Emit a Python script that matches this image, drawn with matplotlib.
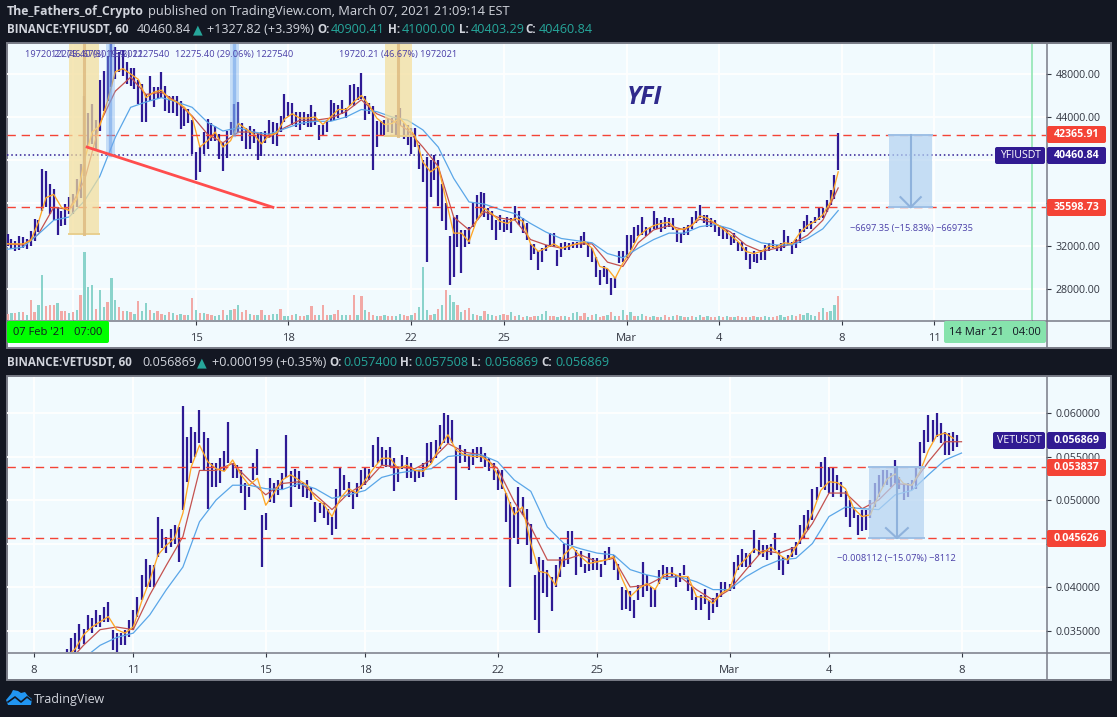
"""Two stacked TradingView style panels: YFIUSDT and VETUSDT hourly, sampled every 3 hours."""
import matplotlib

matplotlib.use("Agg")

import matplotlib.pyplot as plt
import numpy as np
from matplotlib.patches import FancyBboxPatch, Polygon, Rectangle

# YFI prices in thousands of USDT, one sample per 3 hours
yfi_high = [33.1, 32.7, 32.5, 32.9, 32.8, 32.7, 33.4, 34.5, 34.4, 39.2, 39.0, 37.8, 37.3, 35.6, 35.3, 35.9, 36.6, 36.8, 38.2, 39.6,
            46.0, 44.4, 45.2, 43.7, 47.4, 48.3, 49.7, 50.8, 50.5, 50.0, 50.2, 49.1, 48.6, 48.6, 47.4, 47.1, 46.1, 47.8, 46.8, 46.8,
            48.2, 46.9, 46.0, 46.0, 46.0, 45.5, 44.7, 44.7, 43.7, 40.7, 41.2, 42.6, 43.8, 43.4, 43.2, 42.4, 41.6, 42.7, 43.5, 45.2,
            45.4, 43.4, 43.0, 43.2, 42.9, 42.4, 42.6, 42.7, 43.7, 43.5, 43.4, 44.1, 46.1, 45.4,
            45.3, 44.5, 44.5, 44.5, 44.3, 45.1, 44.5, 43.3, 43.3, 43.7, 45.6, 45.3, 45.1, 45.6, 44.8, 47.0, 47.1, 46.8, 48.1, 46.0,
            45.3, 45.0, 43.6, 43.6, 43.7, 43.9, 43.9, 44.2, 44.8, 43.4, 43.3, 43.0, 43.0, 41.4, 40.0, 40.3, 40.0, 40.5, 40.0, 37.8,
            36.0, 32.9, 34.7, 34.9, 33.5, 33.5, 33.8, 36.0, 36.7, 37.0, 36.9, 35.5, 35.3, 34.4, 34.9, 34.4, 34.7, 34.6, 35.7, 35.3,
            34.6, 34.1, 32.2, 32.2, 31.5, 31.8, 32.1, 33.2, 33.2, 31.6,
            32.3, 32.4, 32.3, 32.4, 32.4, 32.9, 33.3, 32.4, 31.8, 31.0, 29.8, 30.1, 29.9, 29.0, 29.1, 31.5, 31.5, 33.0, 33.0, 33.8,
            34.0, 34.7, 33.8, 33.8, 35.3, 34.6, 34.4, 34.7, 34.6, 34.6, 33.5, 33.2, 33.8, 34.0, 34.7, 35.3, 35.8, 34.9, 34.9, 34.6,
            34.4, 33.8, 33.8, 33.5, 33.0, 33.2, 32.4, 32.4, 31.9, 31.3, 31.5, 31.3, 31.6, 32.1, 32.3, 32.6, 32.1, 32.3, 33.5, 32.9,
            32.4, 32.7, 33.6, 34.3, 34.9, 34.3, 34.7, 35.5, 35.5, 36.3, 37.2, 38.6, 42.5]
yfi_low = [32.0, 31.7, 31.5, 31.6, 31.8, 31.7, 32.0, 32.5, 33.3, 35.3, 35.6, 35.0, 34.4, 33.0, 33.9, 34.0, 35.0, 35.0, 35.6, 36.5,
           38.5, 41.0, 41.5, 40.9, 42.7, 44.6, 45.5, 46.8, 47.5, 48.2, 47.8, 47.1, 46.9, 46.6, 45.2, 43.5, 43.5, 45.5, 44.9, 45.7,
           45.8, 44.6, 44.4, 44.4, 44.1, 42.9, 43.2, 43.4, 40.6, 38.1, 38.9, 40.6, 41.0, 41.8, 41.8, 40.1, 39.0, 40.2, 42.3, 42.4,
           42.6, 41.8, 41.0, 41.0, 41.6, 40.0, 40.4, 41.6, 42.1, 41.5, 41.3, 42.6, 43.5, 44.1,
           43.3, 43.1, 42.8, 43.3, 43.1, 43.1, 43.3, 41.9, 42.3, 42.6, 43.6, 43.7, 43.9, 44.3, 43.9, 45.0, 45.0, 45.6, 45.7, 43.7,
           44.3, 39.1, 41.2, 42.3, 42.2, 42.6, 42.5, 42.3, 43.3, 42.0, 41.4, 40.6, 41.2, 39.2, 38.0, 30.5, 36.6, 38.1, 35.7, 34.3,
           33.5, 28.4, 29.1, 31.9, 29.5, 31.9, 32.2, 33.8, 34.4, 35.0, 34.7, 34.4, 33.5, 32.6, 33.5, 33.3, 33.5, 33.2, 34.4, 34.0,
           33.2, 32.6, 30.7, 31.3, 29.8, 30.5, 31.5, 31.9, 31.9, 30.1,
           31.0, 31.6, 31.6, 31.8, 31.8, 31.8, 32.1, 31.0, 30.5, 29.1, 28.4, 29.1, 28.5, 27.4, 28.1, 30.4, 30.5, 30.9, 31.6, 32.3,
           32.9, 33.0, 32.9, 33.2, 33.6, 33.6, 33.3, 33.6, 33.8, 33.5, 32.4, 32.3, 33.0, 33.0, 33.6, 34.1, 34.6, 34.1, 33.8, 33.8,
           33.3, 32.9, 32.7, 32.7, 32.1, 32.3, 31.5, 31.5, 30.7, 29.9, 30.5, 30.4, 30.7, 30.7, 31.5, 31.8, 31.5, 31.5, 31.8, 32.1,
           31.3, 31.8, 32.3, 33.3, 33.6, 33.6, 34.1, 34.4, 34.6, 35.2, 35.8, 36.4, 39.1]
# moving averages: fast every 6 h, mid and slow every 12 h
yfi_fast = [32.2, 32.2, 32.2, 32.5, 34.2, 36.5, 36.8, 35.6, 35.3, 36.4, 40.0, 42.6, 43.2, 45.5, 48.2, 48.5, 48.0, 47.5, 45.8, 46.3,
            46.5, 45.7, 45.4, 44.9, 44.0, 41.2, 41.8, 42.6, 41.2, 41.8, 43.4, 42.9, 42.4, 41.5, 42.3, 42.5, 43.8,
            44.3, 43.9, 43.9, 44.0, 43.3, 44.0, 44.7, 44.7, 45.4, 46.0, 45.1, 43.9, 43.3, 43.4, 43.9, 43.1, 42.2, 39.8, 38.9, 39.4,
            36.3, 33.2, 33.2, 32.4, 34.4, 35.5, 35.0, 34.3, 34.1, 34.6, 34.3, 32.2, 31.5, 31.8, 32.2,
            31.8, 32.0, 32.2, 32.4, 31.8, 30.1, 29.9, 29.0, 30.4, 31.5, 32.9, 33.5, 33.9, 34.1, 34.2, 33.5, 33.6, 33.9, 34.8, 34.6,
            34.1, 33.6, 33.0, 32.4, 31.5, 31.3, 31.5, 32.0, 31.9, 32.3, 32.2, 33.2, 33.9, 34.3, 34.9, 36.1, 38.9]
yfi_mid = [32.2, 32.1, 33.1, 35.6, 35.4, 38.1, 43.4, 46.4, 47.7, 46.1, 46.3, 45.4, 44.1, 42.4, 41.6, 42.6, 42.6, 42.1, 43.0,
           43.7, 43.7, 43.9, 44.5, 45.6, 44.3, 43.7, 42.8, 41.2, 39.4, 34.7, 33.5, 35.2, 34.6, 34.4, 32.6, 32.1,
           31.8, 32.2, 32.2, 30.5, 30.1, 32.3, 33.5, 33.9, 33.5, 34.5, 34.1, 33.3, 32.1, 31.5, 31.8, 32.2, 33.0, 34.4, 37.4]
yfi_slow = [31.7, 31.9, 33.1, 34.4, 34.7, 36.2, 38.5, 42.1, 44.9, 45.4, 45.8, 45.4, 44.9, 43.5, 42.7, 43.0, 42.6, 42.4, 42.9,
            43.4, 43.6, 43.6, 44.0, 44.7, 44.5, 44.0, 43.7, 42.8, 41.2, 38.3, 36.1, 35.9, 35.4, 35.0, 34.1, 33.3,
            32.7, 32.5, 32.3, 31.3, 30.9, 31.8, 32.6, 33.2, 33.2, 33.8, 34.0, 33.6, 32.9, 32.3, 32.1, 32.1, 32.7, 33.6, 35.3]
yfi_volume = [6, 7, 7, 8, 8, 5, 20, 8, 15, 45, 14, 15, 15, 17, 9, 9, 7, 8, 10, 25,
              68, 33, 35, 11, 30, 13, 18, 42, 20, 13, 9, 9, 8, 6, 19, 9, 17, 10, 7, 9,
              6, 5, 8, 7, 5, 6, 5, 5, 22, 10, 7, 7, 6, 5, 4, 5, 10, 5, 10, 11,
              15, 8, 10, 6, 5, 5, 10, 5, 5, 6, 6, 11, 4, 4, 5, 6, 4, 4, 5, 14,
              5, 5, 15, 5, 5, 6, 10, 5, 5, 5, 25, 5, 24, 10, 8, 5, 4, 4, 5, 4,
              4, 4, 6, 5, 4, 5, 7, 13, 53, 10, 5, 6, 11, 15, 30, 25, 18, 15, 8, 10,
              12, 6, 5, 4, 9, 6, 5, 4, 5, 6, 5, 8, 4, 5, 3, 4, 3, 4, 4, 6,
              9, 4, 4, 3, 4, 4, 3, 7, 8, 4, 7, 3, 5, 6, 3, 4, 5, 8, 4, 4,
              10, 5, 8, 4, 4, 6, 4, 3, 4, 3, 3, 5, 3, 4, 5, 4, 3, 3, 4, 3,
              5, 3, 4, 3, 3, 4, 3, 4, 3, 3, 4, 3, 3, 3, 4, 3, 3, 4, 3, 3,
              4, 5, 3, 4, 5, 4, 6, 5, 7, 5, 4, 8, 12, 8, 9, 15, 24]
yfi_volume_dir = ("dudududduu" "ddduddudud" "uuuduuduud" "dududuud" "ud" "dududududu" "dudduuduud" "uddudududu"
                  "uduududdud" "duddudduud" "dududdudud" "duudduduuu" "dududuudud" "dududuudud" "dudududduu"
                  "uddududuud" "dududdudud" "ududuuddud" "uddudududu" "ududdududu" "dddududuud" "duududduuu" "ududuud")

# VET prices in thousandths of USDT, one sample per 3 hours
vet_high = [32.9, 34.1, 34.7, 35.8, 35.2, 36.8, 36.4, 37.4, 36.8, 37.7, 38.3, 35.1, 34.7, 34.7, 35.1, 36.2, 37.4, 38.9, 41.4, 43.2,
            42.5, 42.5, 48.1, 46.7, 45.8, 46.7, 47.1, 46.9, 60.8, 57.3, 58.4, 57.8, 60.4, 57.8, 57.1, 54.2, 54.2, 54.8, 55.6, 59.0,
            54.2, 54.0, 53.4, 51.9, 51.5, 54.2, 55.9, 48.3, 48.5, 52.5, 51.9, 52.3, 53.1, 57.5,
            53.3, 53.6, 53.3, 52.1, 52.3, 51.5, 49.8, 49.6, 49.6, 49.0, 48.1, 51.3, 53.8, 52.9, 52.1, 51.0, 51.9, 53.4, 53.8, 53.6,
            56.3, 57.3, 56.1, 55.7, 56.1, 54.8, 53.8, 55.2, 55.0, 54.2, 53.4, 53.4, 54.2, 56.5, 56.7, 56.9, 58.6, 60.0, 59.8, 59.2,
            55.9, 56.3, 55.9, 55.2, 55.9, 56.1, 56.1, 55.4, 54.8, 54.2, 53.4, 53.4, 50.8, 49.8, 49.2, 51.5, 50.4, 49.0, 47.3, 41.4,
            43.5, 43.1, 42.0, 41.2, 42.5, 43.5,
            45.0, 46.4, 46.4, 44.2, 44.1, 42.7, 43.9, 43.3, 43.3, 42.7, 44.1, 44.6, 43.7, 42.7, 40.0, 39.7, 39.5, 38.5, 40.2, 42.9,
            41.4, 40.0, 39.8, 42.0, 42.5, 42.3, 42.3, 41.4, 41.6, 42.5, 41.2, 40.0, 38.9, 39.1, 39.8, 38.5, 38.7, 39.3, 40.6, 40.6,
            40.4, 42.9, 43.7, 44.4, 43.9, 43.9, 46.6, 45.4, 44.8, 44.8, 45.0, 46.2, 44.2, 43.5, 43.7, 44.6, 45.2, 47.1, 48.3, 48.9,
            51.3, 51.5, 54.4, 55.0, 53.8, 53.8,
            52.9, 52.1, 51.0, 50.0, 49.2, 48.3, 48.9, 48.9, 50.0, 51.9, 52.9, 53.4, 53.4, 53.1, 54.6, 52.7, 51.7, 51.9, 52.3, 53.8,
            56.7, 58.0, 59.8, 59.2, 60.0, 58.8, 57.8, 57.7, 57.8, 57.5]
vet_low = [32.0, 32.0, 32.4, 32.9, 33.5, 35.1, 34.7, 35.4, 35.4, 36.0, 36.0, 32.8, 32.0, 33.3, 33.3, 34.3, 35.1, 36.6, 38.5, 40.0,
           40.0, 40.0, 43.5, 44.5, 43.9, 44.6, 45.0, 42.9, 48.9, 52.1, 54.2, 55.0, 56.5, 53.3, 49.0, 51.5, 51.5, 51.9, 53.3, 54.2,
           52.5, 52.5, 50.8, 48.9, 50.4, 52.3, 52.9, 42.3, 46.5, 49.8, 49.6, 50.6, 51.3, 52.5,
           49.2, 51.5, 51.3, 50.4, 50.2, 50.0, 47.5, 48.5, 47.9, 47.1, 46.0, 46.7, 50.4, 51.1, 50.4, 49.0, 50.4, 51.3, 51.7, 52.3,
           53.8, 54.2, 54.0, 53.8, 53.8, 51.0, 52.1, 53.6, 52.5, 52.5, 52.1, 52.5, 52.7, 53.8, 54.2, 54.8, 55.9, 56.5, 56.5, 56.5,
           50.0, 54.2, 54.4, 53.4, 54.0, 54.8, 54.4, 53.8, 53.3, 52.3, 51.1, 51.3, 47.5, 40.0, 45.6, 45.0, 48.3, 44.8, 42.7, 36.2,
           34.7, 39.3, 38.9, 37.2, 40.0, 41.2,
           42.3, 42.7, 44.8, 41.4, 42.3, 41.6, 41.8, 42.0, 42.0, 41.2, 42.5, 43.1, 42.0, 40.8, 37.4, 37.5, 37.2, 36.4, 38.5, 38.9,
           39.5, 37.7, 37.7, 40.4, 41.0, 40.8, 41.2, 40.0, 40.6, 41.4, 39.5, 38.5, 37.4, 37.4, 38.1, 36.2, 37.0, 37.7, 38.9, 39.5,
           39.5, 39.8, 42.0, 42.3, 42.3, 42.3, 43.9, 43.7, 43.5, 43.1, 43.7, 44.2, 42.0, 41.4, 42.7, 43.5, 43.7, 45.0, 45.6, 46.6,
           47.7, 50.0, 51.5, 51.1, 50.8, 50.4,
           51.1, 50.4, 48.1, 46.9, 47.9, 46.0, 46.4, 46.5, 47.9, 49.2, 50.4, 51.5, 51.7, 51.5, 51.9, 51.3, 50.0, 50.4, 51.1, 51.3,
           53.6, 55.4, 56.7, 56.7, 57.3, 56.5, 55.2, 55.2, 55.6, 56.1]
vet_fast = [32.0, 32.9, 34.5, 35.4, 36.0, 36.6, 35.1, 34.7, 35.4, 38.3, 40.8, 43.7, 44.8, 45.6, 48.5, 53.8, 56.3, 54.4, 53.6, 53.3,
            54.6, 52.9, 51.7, 52.5, 49.4, 50.8, 52.3,
            52.9, 52.3, 51.7, 50.2, 49.5, 48.1, 50.2, 51.3, 50.8, 52.3, 53.6, 54.8, 54.8, 53.6, 54.0, 53.4, 53.3, 54.2, 56.1, 57.5,
            55.7, 55.2, 55.0, 55.0, 54.4, 52.9, 50.8, 48.3, 49.2, 45.0, 41.8, 41.6, 40.2,
            43.7, 44.6, 43.5, 42.7, 42.9, 43.1, 43.5, 41.0, 38.9, 39.8, 40.4, 39.7, 41.4, 41.6, 41.2, 41.2, 38.9, 38.8, 38.1, 39.3,
            39.8, 42.3, 43.3, 44.4, 43.9, 44.6, 43.7, 43.1, 44.6, 46.2, 48.5, 51.1, 52.1,
            52.0, 51.3, 49.0, 48.1, 48.3, 50.6, 52.4, 53.0, 51.9, 51.7, 53.3, 55.7, 57.4, 57.7, 57.1]
vet_mid = [31.2, 33.3, 35.1, 35.4, 35.1, 39.1, 42.5, 45.8, 53.4, 53.4, 54.2, 52.3, 50.6, 51.9,
           52.1, 50.6, 48.9, 50.8, 51.9, 54.0, 53.8, 53.6, 54.6, 56.5, 55.5, 55.2, 53.6, 49.8, 46.9, 43.1,
           43.1, 43.7, 42.9, 43.3, 40.0, 40.2, 41.2, 41.2, 39.7, 38.5, 39.7, 42.0, 44.2, 43.9, 44.6, 47.3, 50.8,
           50.8, 49.0, 50.0, 51.9, 51.7, 54.4, 56.7, 56.7]
vet_slow = [29.7, 31.8, 33.3, 34.2, 34.7, 36.8, 39.7, 42.3, 47.5, 50.0, 51.7, 51.7, 51.3, 51.2,
            51.9, 51.3, 50.2, 50.6, 51.1, 52.6, 53.1, 53.4, 53.6, 55.0, 55.2, 55.2, 54.4, 52.3, 51.0, 46.9,
            45.0, 44.4, 43.9, 43.7, 42.0, 41.4, 41.0, 41.2, 40.6, 39.7, 39.7, 41.2, 42.3, 43.1, 43.3, 45.0, 48.1,
            49.2, 49.0, 48.9, 50.6, 51.1, 52.9, 54.6, 55.4]

# x ticks, in days after 1 Feb 2021
yfi_tick_days = [10, 14, 17, 21, 24, 28, 31, 35, 38, 41.17]
yfi_tick_labels = ["", "15", "18", "22", "25", "Mar", "4", "8", "11", ""]
vet_tick_days = [7, 10, 14, 17, 21, 24, 28, 31, 35]
vet_tick_labels = ["8", "11", "15", "18", "22", "25", "Mar", "4", "8"]
# blank labels sit behind the price tags in the original
yfi_price_ticks = [28000, 32000, 36000, 40000, 44000, 48000]
yfi_price_labels = ["28000.00", "32000.00", "", "", "44000.00", "48000.00"]
vet_price_ticks = [0.035, 0.040, 0.045, 0.050, 0.055, 0.060]
vet_price_labels = ["0.035000", "0.040000", "", "0.050000", "0.055000", "0.060000"]

W, H = 1117, 717
BG = "#131722"
PANEL = "#F1FAFE"
FRAME = "#787B86"
CANDLE = "#2E1A94"
ORANGE = "#FFA726"
RED_MA = "#C4524F"
BLUE_MA = "#5AA6E8"
DASH = "#F44336"
INK = "#333742"
TEAL = "#26A69A"
HEAD = "#D1D4DC"
TXT = "#4A3FA8"
FONT = "Open Sans"

plt.rcParams["font.family"] = FONT

fig = plt.figure(figsize=(W / 100, H / 100), dpi=100, facecolor=BG)


def px_axes(x0, y0, x1, y1, **kw):
    return fig.add_axes([x0 / W, 1 - y1 / H, (x1 - x0) / W, (y1 - y0) / H], **kw)


# background layer and label layer, both in plain image pixels
back = px_axes(0, 0, W, H, zorder=0)
over = px_axes(0, 0, W, H, zorder=10)
for a in (back, over):
    a.set_xlim(0, W)
    a.set_ylim(H, 0)
    a.axis("off")
over.patch.set_alpha(0)

for top, bottom in ((43, 348), (376, 680)):
    back.add_patch(Rectangle((7, top), 1104, bottom - top, facecolor=PANEL, edgecolor=FRAME, lw=1.4))
    over.plot([1046.5, 1046.5], [top, bottom], color=FRAME, lw=1.1)
over.plot([7, 1111], [320.5, 320.5], color=FRAME, lw=1.1)
over.plot([7, 1111], [652.5, 652.5], color=FRAME, lw=1.1)


def draw_panel(pos, xlim, ylim, high, low, fast, mid, slow, start, scale, ticks, tick_text, tick_days, tick_labels):
    ax = px_axes(*pos, zorder=2)
    ax.set_facecolor("none")
    ax.set_xlim(*xlim)
    ax.set_ylim(*ylim)
    for s in ax.spines.values():
        s.set_visible(False)
    ax.yaxis.tick_right()
    ax.set_yticks(ticks)
    ax.set_yticklabels(tick_text, fontsize=7.7, color=INK)
    ax.set_xticks(tick_days)
    ax.set_xticklabels(tick_labels, fontsize=8.1, color=INK)
    ax.tick_params(axis="x", length=3.5, color=INK, width=0.8, pad=6)
    ax.tick_params(axis="y", length=3.5, color=INK, width=0.8, pad=3.6)
    ax.grid(color="white", lw=1.3)
    ax.set_axisbelow(True)

    day = start + 0.125 * np.arange(len(high))
    ax.vlines(day, np.array(low) * scale, np.array(high) * scale, color=CANDLE, lw=1.6, zorder=3)
    ax.plot(start + 0.25 * np.arange(len(fast)), np.array(fast) * scale, color=ORANGE, lw=0.95, zorder=5)
    ax.plot(start + 0.5 * np.arange(len(mid)), np.array(mid) * scale, color=RED_MA, lw=0.9, zorder=4)
    ax.plot(start + 0.5 * np.arange(len(slow)), np.array(slow) * scale, color=BLUE_MA, lw=0.9, zorder=4)
    return ax


def short_box(ax, d0, d1, top, bottom):
    # drop measured with the position tool: shaded box, edge lines and a down arrow
    mid_d = (d0 + d1) / 2
    ax.add_patch(Rectangle((d0, bottom), d1 - d0, top - bottom, facecolor="#B5D3F1", alpha=0.72, lw=0, zorder=6))
    ax.plot([d0, d1], [top, top], color="#9DC0E6", lw=1.4, zorder=6)
    ax.plot([d0, d1], [bottom, bottom], color="#9DC0E6", lw=1.4, zorder=6)
    ax.plot([mid_d, mid_d], [top, bottom], color="#8FB2DC", lw=1.5, zorder=7)
    span = top - bottom
    ax.plot([mid_d - 0.33, mid_d, mid_d + 0.33], [bottom + span * 0.14, bottom, bottom + span * 0.14],
            color="#8FB2DC", lw=1.5, zorder=7)


# --- YFI panel ---------------------------------------------------------
ax1 = draw_panel((7, 44, 1046, 320), (7.856, 41.63), (25120, 50790), yfi_high, yfi_low, yfi_fast, yfi_mid, yfi_slow,
                 7.875, 1000, yfi_price_ticks, yfi_price_labels, yfi_tick_days, yfi_tick_labels)
ax1.axvline(41.17, color="#86E3AC", lw=1.1, zorder=1)
for level in (42365.91, 35598.73):
    ax1.axhline(level, color=DASH, lw=1.0, dashes=(6, 4.2), zorder=6)
ax1.plot([7.856, 39.98], [40460.84, 40460.84], color=CANDLE, lw=1.1, dashes=(1, 1.8), zorder=6)

for d0, d1, bottom in ((9.87, 10.85, 33100), (20.14, 21.02, 42260)):
    ax1.add_patch(Rectangle((d0, bottom), d1 - d0, 52000 - bottom, facecolor="#F3DE9A", alpha=0.72, lw=0, zorder=6))
    ax1.plot([d0, d1], [bottom, bottom], color="#E8CF8F", lw=1.4, zorder=6)
    ax1.plot([(d0 + d1) / 2] * 2, [bottom, 52000], color="#E0BE85", lw=2.2, alpha=0.9, zorder=6)
for d0, d1, bottom in ((11.07, 11.37, 40460), (15.1, 15.4, 42300)):
    ax1.add_patch(Rectangle((d0, bottom), d1 - d0, 52000 - bottom, facecolor="#7FB0EC", alpha=0.38, lw=0, zorder=6))
    ax1.plot([(d0 + d1) / 2] * 2, [bottom, 52000], color="#6FA2EA", lw=2.4, alpha=0.55, zorder=6)
ax1.plot([10.46, 16.5], [41200, 35600], color="#FF4D4D", lw=2.0, zorder=8)
short_box(ax1, 36.53, 37.93, 42365.91, 35598.73)

# volume shares the x scale and sits on the baseline of the upper panel
ax_v = px_axes(7, 44, 1046, 320, zorder=3)
ax_v.patch.set_alpha(0)
ax_v.set_xlim(7.856, 41.63)
ax_v.set_ylim(0, 276)
ax_v.axis("off")
vol_day = 7.875 + 0.125 * np.arange(len(yfi_volume))
vol_colors = ["#8AD3CB" if c == "u" else "#F2A9A6" for c in yfi_volume_dir]
ax_v.bar(vol_day, yfi_volume, width=0.075, color=vol_colors, lw=0)

# --- VET panel ---------------------------------------------------------
ax2 = draw_panel((7, 377, 1046, 652), (6.19, 37.55), (0.03253, 0.06414), vet_high, vet_low, vet_fast, vet_mid, vet_slow,
                 8.0, 0.001, vet_price_ticks, vet_price_labels, vet_tick_days, vet_tick_labels)
for level in (0.053837, 0.045626):
    ax2.axhline(level, color=DASH, lw=1.0, dashes=(6, 4.2), zorder=6)
short_box(ax2, 32.22, 33.88, 0.053837, 0.045626)


# --- text and chrome in pixels ------------------------------------------
def row(y, parts, size=9.1, bold_size=8.4):
    for x, s, color, weight in parts:
        family = "DejaVu Sans" if s == "▲" else FONT
        fs = bold_size if weight == "bold" else size
        over.text(x, y, s, color=color, fontsize=fs, fontweight=weight, va="center", ha="left", family=family)


row(12, [(7, "The_Fathers_of_Crypto", HEAD, "bold"),
         (148, "published on TradingView.com, March 07, 2021 21:09:14 EST", HEAD, "normal")], size=9.3, bold_size=8.8)
row(29.5, [(7, "BINANCE:YFIUSDT, 60", HEAD, "bold"), (137, "40460.84", HEAD, "normal"), (193, "▲", TEAL, "normal"),
           (207, "+1327.82 (+3.39%)", HEAD, "normal"), (317, "O:", HEAD, "bold"), (331, "40900.41", TEAL, "normal"),
           (388, "H:", HEAD, "bold"), (402, "41000.00", TEAL, "normal"), (459, "L:", HEAD, "bold"),
           (471, "40403.29", TEAL, "normal"), (525, "C:", HEAD, "bold"), (539, "40460.84", TEAL, "normal")])
row(362.5, [(7, "BINANCE:VETUSDT, 60", HEAD, "bold"), (142, "0.056869", HEAD, "normal"), (197, "▲", TEAL, "normal"),
            (212, "+0.000199 (+0.35%)", HEAD, "normal"), (329, "O:", HEAD, "bold"), (343, "0.057400", TEAL, "normal"),
            (400, "H:", HEAD, "bold"), (414, "0.057508", TEAL, "normal"), (471, "L:", HEAD, "bold"),
            (484, "0.056869", TEAL, "normal"), (541, "C:", HEAD, "bold"), (555, "0.056869", TEAL, "normal")])

for x, y, s in ((84, 55, "19720.21 (46.67%) 1972021"), (110, 55, "12275.40 (30.15%) 1227540"),
                (234, 55, "12275.40 (29.06%) 1227540"), (398, 55, "19720.21 (46.67%) 1972021"),
                (911, 228, "−6697.35 (−15.83%) −669735"), (896, 558, "−0.008112 (−15.07%) −8112")):
    over.text(x, y, s, color=TXT, fontsize=6.7, ha="center", va="center")
over.text(644, 97, "YFI", color="#2F2A8C", fontsize=18, fontweight="bold", fontstyle="italic", ha="center", va="center")


def tag(x0, x1, y, s, face, color="white", weight="bold"):
    over.add_patch(FancyBboxPatch((x0, y - 8.5), x1 - x0, 17, boxstyle="round,pad=0,rounding_size=2",
                                  facecolor=face, edgecolor="none", zorder=3))
    over.text((x0 + x1) / 2, y, s, color=color, fontsize=7.7, fontweight=weight, ha="center", va="center", zorder=4)


tag(1047, 1106, 134.5, "42365.91", DASH)
tag(1047, 1106, 207.5, "35598.73", DASH)
tag(995, 1045, 155.5, "YFIUSDT", "#311B92", weight="normal")
tag(1047, 1106, 155.5, "40460.84", "#311B92")
tag(993, 1045, 440.5, "VETUSDT", "#311B92", weight="normal")
tag(1047, 1106, 440.5, "0.056869", "#311B92")
tag(1047, 1106, 467.5, "0.053837", DASH)
tag(1047, 1106, 538.5, "0.045626", DASH)

for x0, x1, face, s in ((7, 109, "#00FF00", "07 Feb '21   07:00"), (944, 1046, "#86E3AC", "14 Mar '21   04:00")):
    over.add_patch(FancyBboxPatch((x0, 321), x1 - x0, 22, boxstyle="round,pad=0,rounding_size=2",
                                  facecolor=face, edgecolor="none", zorder=3))
    over.text((x0 + x1) / 2, 332.5, s, color="#131722", fontsize=8.0, ha="center", va="center", zorder=4)

# TradingView mark and name in the footer
over.add_patch(Polygon([(6, 700), (11, 694), (13, 690), (18, 691), (21, 693), (25, 692), (28, 696), (32, 699), (31, 705),
                        (8, 705)], closed=True, facecolor="#2196F3", edgecolor="none"))
over.plot([8, 15, 21, 27, 31], [702, 697, 702, 697, 700], color=BG, lw=1.2)
over.text(34, 699, "TradingView", color=HEAD, fontsize=9.0, va="center", ha="left")

fig.savefig("out.png", dpi=100, facecolor=BG)
